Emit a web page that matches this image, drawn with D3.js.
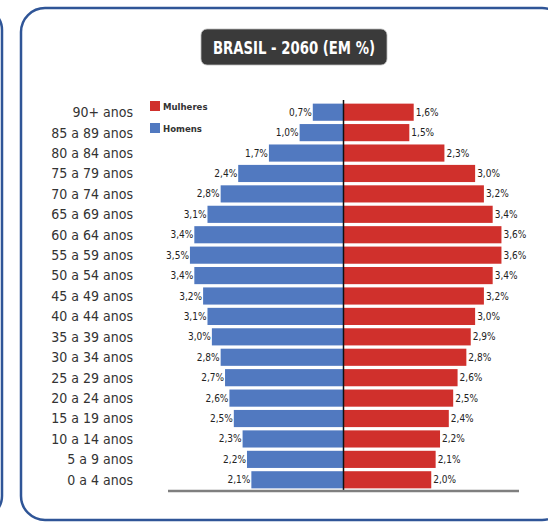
<!DOCTYPE html>
<html><head><meta charset="utf-8">
<script src="https://cdn.jsdelivr.net/npm/d3@7"></script>
<style>html,body{margin:0;padding:0;background:#fff;overflow:hidden}</style>
</head><body>
<svg id="c" width="548" height="524"></svg>
<script>
const ageGroups = ["90+ anos","85 a 89 anos","80 a 84 anos","75 a 79 anos","70 a 74 anos","65 a 69 anos","60 a 64 anos","55 a 59 anos","50 a 54 anos","45 a 49 anos","40 a 44 anos","35 a 39 anos","30 a 34 anos","25 a 29 anos","20 a 24 anos","15 a 19 anos","10 a 14 anos","5 a 9 anos","0 a 4 anos"];
const homens   = [0.7,1.0,1.7,2.4,2.8,3.1,3.4,3.5,3.4,3.2,3.1,3.0,2.8,2.7,2.6,2.5,2.3,2.2,2.1];
const mulheres = [1.6,1.5,2.3,3.0,3.2,3.4,3.6,3.6,3.4,3.2,3.0,2.9,2.8,2.6,2.5,2.4,2.2,2.1,2.0];
const seriesNames = ["Mulheres","Homens"];
const titleText = "BRASIL - 2060 (EM %)";

const svg = d3.select("#c");
const narrow = "'Liberation Sans Narrow','DejaVu Sans Condensed','Roboto Condensed',Arial,sans-serif";
const frameColor = "#2f5597";
const blue = "#5179c0", red = "#d0302c";

// frames
svg.append("rect").attr("x",-200).attr("y",8).attr("width",202).attr("height",510)
  .attr("rx",22).attr("fill","none").attr("stroke",frameColor).attr("stroke-width",2.5);
svg.append("rect").attr("x",21).attr("y",8).attr("width",545).attr("height",512)
  .attr("rx",24).attr("fill","none").attr("stroke",frameColor).attr("stroke-width",2.5);

// title
const tg = svg.append("g");
tg.append("rect").attr("x",201).attr("y",29).attr("width",186).attr("height",36).attr("rx",6)
  .attr("fill","#3a3a3a").attr("stroke","#bbb").attr("stroke-width",0.8);
tg.append("text").attr("x",294).attr("y",54).attr("text-anchor","middle")
  .attr("font-family",narrow).attr("font-weight","bold").attr("font-size",18)
  .attr("fill","#fff").attr("textLength",162).attr("lengthAdjust","spacingAndGlyphs").text(titleText);

const x = d3.scaleLinear().domain([-4,4]).range([168,519]);
const y = d3.scaleBand().domain(ageGroups).range([102,490]).paddingInner(0.16).paddingOuter(0.08);
const data = ageGroups.map((g,i)=>({g, h:homens[i], m:mulheres[i]}));

// bars
svg.append("g").selectAll("rect").data(data).join("rect")
  .attr("x",d=>x(-d.h)).attr("y",d=>y(d.g)).attr("width",d=>x(0)-x(-d.h)).attr("height",y.bandwidth())
  .attr("fill",blue);
svg.append("g").selectAll("rect").data(data).join("rect")
  .attr("x",x(0)).attr("y",d=>y(d.g)).attr("width",d=>x(d.m)-x(0)).attr("height",y.bandwidth())
  .attr("fill",red);

const fmt = v => d3.format(".1f")(v).replace(".",",") + "%";
// value labels
svg.append("g").selectAll("text").data(data).join("text")
  .attr("x",d=>x(-d.h)-1).attr("y",d=>y(d.g)+y.bandwidth()/2+3.5).attr("text-anchor","end")
  .attr("font-family",narrow).attr("font-size",10).attr("fill","#222").text(d=>fmt(d.h));
svg.append("g").selectAll("text").data(data).join("text")
  .attr("x",d=>x(d.m)+2).attr("y",d=>y(d.g)+y.bandwidth()/2+3.5).attr("text-anchor","start")
  .attr("font-family",narrow).attr("font-size",10).attr("fill","#222").text(d=>fmt(d.m));

// age labels (axis)
const yAxis = d3.axisLeft(y).tickSize(0).tickPadding(0);
const ag = svg.append("g").attr("transform","translate(133,0)").call(yAxis);
ag.select(".domain").remove();
ag.selectAll("text").attr("font-family",narrow).attr("font-size",14).attr("fill","#333").attr("dy","0.35em");

// center line
svg.append("line").attr("x1",x(0)).attr("x2",x(0)).attr("y1",100).attr("y2",491)
  .attr("stroke","#111").attr("stroke-width",1.5);
// bottom axis
svg.append("line").attr("x1",x(-4)).attr("x2",x(4)).attr("y1",491).attr("y2",491)
  .attr("stroke","#7f7f7f").attr("stroke-width",2.5);

// legend
const lg = svg.append("g");
[[red,seriesNames[0],101],[blue,seriesNames[1],123]].forEach(([c,t,yy])=>{
  lg.append("rect").attr("x",150).attr("y",yy).attr("width",10).attr("height",10).attr("fill",c);
  lg.append("text").attr("x",163).attr("y",yy+8.5).attr("font-family",narrow).attr("font-size",9.5)
    .attr("font-weight","bold").attr("fill","#333").text(t);
});
</script>
</body></html>
